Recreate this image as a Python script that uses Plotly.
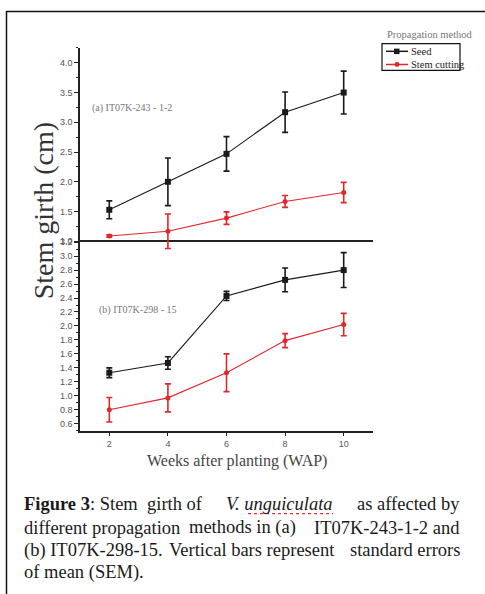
import plotly.graph_objects as go

# ---- data ----
weeks = [2, 4, 6, 8, 10]
week_labels = ["2", "4", "6", "8", "10"]

a_seed = [1.53, 2.00, 2.47, 3.17, 3.50]
a_seed_err = [0.15, 0.40, 0.29, 0.34, 0.36]
a_cut = [1.09, 1.17, 1.39, 1.67, 1.82]
a_cut_err = [0.02, 0.29, 0.105, 0.10, 0.17]

b_seed = [1.33, 1.47, 2.43, 2.66, 2.80]
b_seed_err = [0.07, 0.09, 0.065, 0.17, 0.25]
b_cut = [0.80, 0.97, 1.33, 1.79, 2.02]
b_cut_err = [0.175, 0.20, 0.27, 0.10, 0.16]

series_names = ["Seed", "Stem cutting"]
panel_labels = ["(a) IT07K-243 - 1-2", "(b) IT07K-298 - 15"]

W, H = 485, 594
def px(x):
    return x / W
def py(y):
    return 1 - y / H

BLACK = "#1a1a1a"
RED = "#e3262b"
SERIF = "Liberation Serif"
SANS = "Liberation Sans"

fig = go.Figure()

def add_series(x, y, err, color, symbol, size, xa, ya):
    fig.add_trace(go.Scatter(
        x=x, y=y, mode="lines+markers", xaxis=xa, yaxis=ya,
        line=dict(color=color, width=1.1),
        marker=dict(color=color, symbol=symbol, size=size),
        error_y=dict(type="data", array=err, color=color, thickness=1.6, width=3),
        showlegend=False, cliponaxis=False,
    ))

# top panel (a)
add_series(weeks, a_seed, a_seed_err, BLACK, "square", 6, "x2", "y2")
add_series(weeks, a_cut, a_cut_err, RED, "circle", 5, "x2", "y2")
# bottom panel (b)
add_series(weeks, b_seed, b_seed_err, BLACK, "square", 6, "x", "y")
add_series(weeks, b_cut, b_cut_err, RED, "circle", 5, "x", "y")

axis_line = dict(showline=True, linecolor="#222", linewidth=1.6, showgrid=False, zeroline=False)
tickfont = dict(family=SANS, size=9, color="#555")

fig.update_layout(
    width=W, height=H,
    margin=dict(l=0, r=0, t=0, b=0),
    paper_bgcolor="white", plot_bgcolor="rgba(0,0,0,0)",
    xaxis=dict(domain=[px(80), px(373)], range=[1, 11], anchor="y",
               tickmode="array", tickvals=weeks, ticktext=week_labels,
               ticks="outside", ticklen=4, tickwidth=1.2, tickcolor="#222",
               mirror=True, tickfont=tickfont, **axis_line),
    yaxis=dict(domain=[py(429.3), py(239.2)], range=[0.5, 3.2], anchor="x",
               tick0=0, dtick=0.2, tickformat=".1f",
               ticks="outside", ticklen=4, tickwidth=1.2, tickcolor="#222",
               minor=dict(dtick=0.1, ticks="outside", ticklen=2, tickcolor="#222"),
               tickfont=tickfont, **axis_line),
    xaxis2=dict(domain=[px(80), px(373)], range=[1, 11], anchor="y2",
                visible=False),
    yaxis2=dict(domain=[py(247.3), py(43.3)], range=[0.85, 4.25], anchor="x2",
                tick0=0, dtick=0.5, tickformat=".1f",
                ticks="outside", ticklen=4, tickwidth=1.2, tickcolor="#222",
                minor=dict(dtick=0.25, ticks="outside", ticklen=2, tickcolor="#222"),
                tickfont=tickfont, **axis_line),
)

def note(text, x, y, size, color, xanchor="left", angle=0):
    return dict(text=text, x=px(x), y=py(y), xref="paper", yref="paper",
                xanchor=xanchor, yanchor="middle", textangle=angle, showarrow=False,
                font=dict(family=SERIF, size=size, color=color))

ann = []
# axis titles
ann.append(note("Stem girth (cm)", 43, 208, 28, "#333", xanchor="center", angle=-90))
ann.append(note("Weeks after planting (WAP)", 237, 460, 16, "#444", xanchor="center"))
# panel labels
ann.append(note(panel_labels[0], 90, 104, 10, "#777"))
ann.append(note(panel_labels[1], 97, 308, 10, "#777"))
# legend (manual)
ann.append(note("Propagation method", 385, 30, 10.5, "#777"))
ann.append(note(series_names[0], 409, 47, 10.5, "#222"))
ann.append(note(series_names[1], 409, 60.5, 10.5, "#222"))

# caption: justified lines built from left / middle / right chunks
CAP = 18.5
CAPC = "#1a1a1a"
L, R = 22, 462
cap_rows = [
    (503, "<b>Figure 3</b>: Stem  girth of", "<i>V. unguiculata</i>", 279, "as affected by"),
    (527, "different propagation", "methods in (a)", 242, "IT07K-243-1-2 and"),
    (550, "(b) IT07K-298-15.", "Vertical bars represent", 252, "standard errors"),
]
for yy, left, mid, midx, right in cap_rows:
    ann.append(note(left, L, yy, CAP, CAPC))
    ann.append(note(mid, midx, yy, CAP, CAPC, xanchor="center"))
    ann.append(note(right, R, yy, CAP, CAPC, xanchor="right"))
ann.append(note("of mean (SEM).", L, 572, CAP, CAPC))

shapes = []
# figure frame
shapes.append(dict(type="rect", xref="paper", yref="paper", x0=px(6.5), y0=py(6.5), x1=px(500), y1=py(620),
                   line=dict(color="#111", width=1.5)))
# legend box and samples
shapes.append(dict(type="rect", xref="paper", yref="paper", x0=px(382), y0=py(39), x1=px(460), y1=py(66),
                   line=dict(color="#111", width=1.2)))
shapes.append(dict(type="line", xref="paper", yref="paper", x0=px(386), y0=py(46.7), x1=px(408), y1=py(46.7),
                   line=dict(color=BLACK, width=1.5)))
shapes.append(dict(type="rect", xref="paper", yref="paper", x0=px(394), y0=py(44), x1=px(399.5), y1=py(49.5),
                   fillcolor=BLACK, line=dict(width=0)))
shapes.append(dict(type="line", xref="paper", yref="paper", x0=px(386), y0=py(60), x1=px(408), y1=py(60),
                   line=dict(color=RED, width=1.5)))
shapes.append(dict(type="circle", xref="paper", yref="paper", x0=px(394.5), y0=py(57.5), x1=px(399.5), y1=py(62.5),
                   fillcolor=RED, line=dict(width=0)))
# spell-check squiggle under "unguiculata"
shapes.append(dict(type="line", xref="paper", yref="paper", x0=px(248), y0=py(513), x1=px(333), y1=py(513),
                   line=dict(color="#e03030", width=1.2, dash="dot")))

fig.update_layout(annotations=ann, shapes=shapes)
fig.write_html("out.html")
